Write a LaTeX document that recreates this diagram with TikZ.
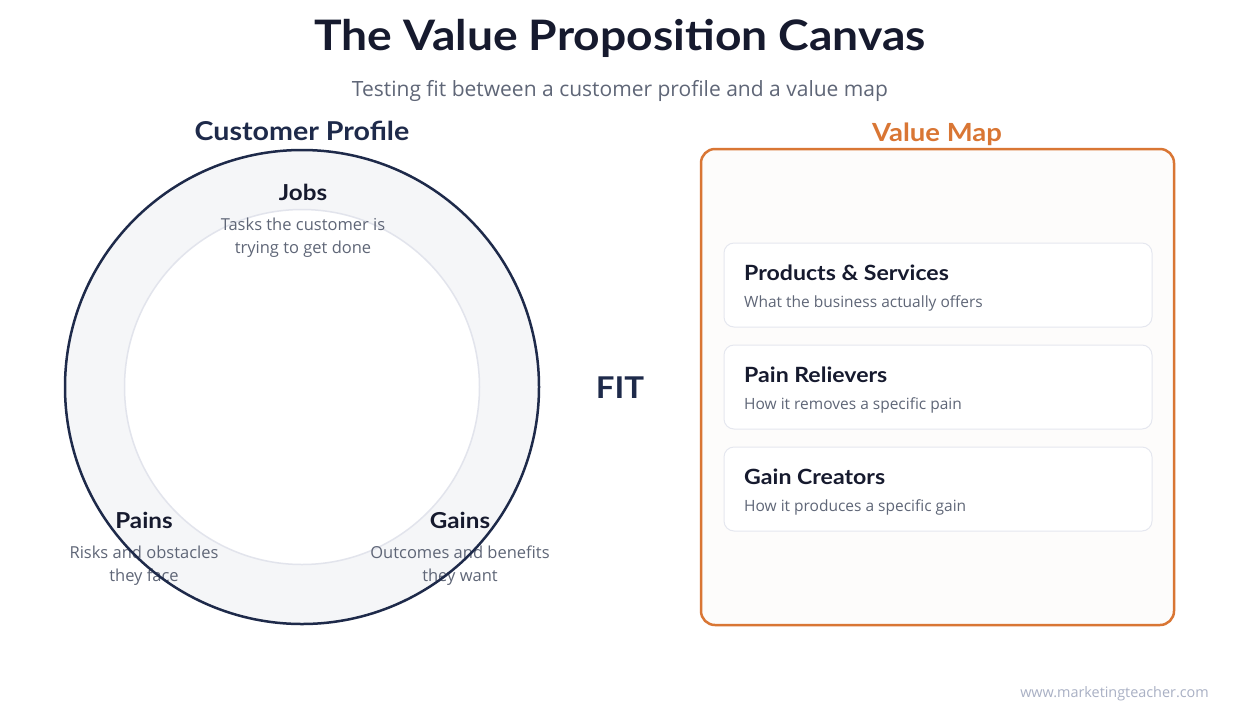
\documentclass[tikz,border=0pt]{standalone}
\usepackage{fontspec}
\setmainfont{Open Sans}
\newfontfamily\hfont{Lato}[BoldFont={Lato Bold}, FakeStretch=1.1]
\definecolor{navy}{HTML}{1E2A4A}
\definecolor{ink}{HTML}{161A2E}
\definecolor{muted}{HTML}{5F6677}
\definecolor{ringfill}{HTML}{F5F6F8}
\definecolor{ringline}{HTML}{E2E4EC}
\definecolor{orangeM}{HTML}{D97634}
\definecolor{mapfill}{HTML}{FDFCFB}
\definecolor{cardline}{HTML}{E5E7EF}
\definecolor{wm}{HTML}{A9B0C4}
\tikzset{
  head/.style={font=\hfont\bfseries\fontsize{22}{26}\selectfont, text=ink, inner sep=0pt},
  desc/.style={font=\fontsize{16.5}{23}\selectfont, text=muted, align=center, inner sep=0pt},
  card/.style={draw=cardline, line width=1pt, fill=white, rounded corners=10pt},
  cardtitle/.style={font=\hfont\bfseries\fontsize{21}{24}\selectfont, text=ink, anchor=west, inner sep=0pt},
  cardsub/.style={font=\fontsize{15.5}{18}\selectfont, text=muted, anchor=west, inner sep=0pt},
}
\begin{document}
\begin{tikzpicture}[x=1pt,y=-1pt]
\useasboundingbox[fill=white] (0,0) rectangle (1240,721);
% title
\node[font=\hfont\bfseries\fontsize{42}{50}\selectfont, text=ink, inner sep=0pt] (title) at (620,38) {The Value Proposition Canvas};
\node[font=\fontsize{21}{25}\selectfont, text=muted, inner sep=0pt] (subtitle) at (620,91) {Testing fit between a customer profile and a value map};
% customer profile
\node[font=\hfont\bfseries\fontsize{26}{30}\selectfont, text=navy, inner sep=0pt] (cp) at (302,131) {Customer Profile};
\fill[ringfill] (302,387) circle (237);
\filldraw[fill=white, draw=ringline, line width=1.5pt] (302,387) circle (177.5);
\node[head] (jobs) at (303,192) {Jobs};
\node[desc] (jobsd) at (303,238) {Tasks the customer is\\trying to get done};
\node[head] (pains) at (144,520) {Pains};
\node[desc] (painsd) at (144,566) {Risks and obstacles\\they face};
\node[head] (gains) at (460,520) {Gains};
\node[desc] (gainsd) at (460,566) {Outcomes and benefits\\they want};
\draw[navy, line width=2.5pt] (302,387) circle (237);
% fit
\node[font=\hfont\bfseries\fontsize{30}{34}\selectfont, text=navy, inner sep=0pt] (fit) at (620,388) {FIT};
% value map
\node[font=\hfont\bfseries\fontsize{25}{30}\selectfont, text=orangeM, inner sep=0pt] (vm) at (937,134) {Value Map};
\filldraw[fill=mapfill, draw=orangeM, line width=2.5pt, rounded corners=14pt] (701,149) rectangle (1174,625);
\filldraw[card] (724,243) rectangle (1152,327);
\node[cardtitle] (ps) at (744,273) {Products \& Services};
\node[cardsub] (psd) at (744,303) {What the business actually offers};
\filldraw[card] (724,345) rectangle (1152,429);
\node[cardtitle] (pr) at (744,375) {Pain Relievers};
\node[cardsub] (prd) at (744,405) {How it removes a specific pain};
\filldraw[card] (724,447) rectangle (1152,531);
\node[cardtitle] (gc) at (744,477) {Gain Creators};
\node[cardsub] (gcd) at (744,507) {How it produces a specific gain};
% watermark
\node[font=\fontsize{14.4}{16}\selectfont, text=wm, anchor=east, inner sep=0pt] (url) at (1209,694) {www.marketingteacher.com};
\end{tikzpicture}
\end{document}
